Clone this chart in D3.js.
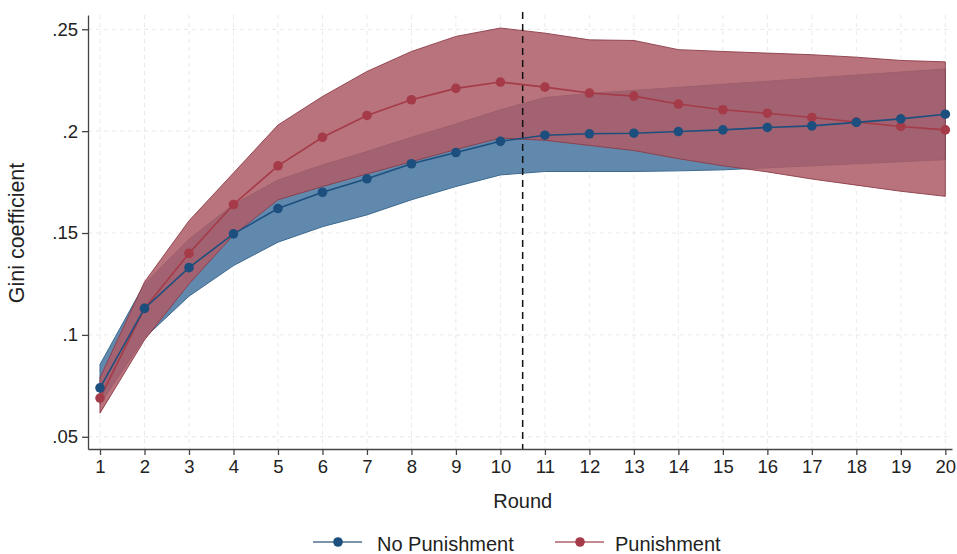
<!DOCTYPE html>
<html>
<head>
<meta charset="utf-8">
<script src="https://cdn.jsdelivr.net/npm/d3@7"></script>
<style>
  body { margin: 0; background: #fff; }
  text { font-family: "Liberation Sans", Arial, Helvetica, sans-serif; fill: #222; }
</style>
</head>
<body>
<div id="chart"></div>
<script>
// chart values
var rounds = [1,2,3,4,5,6,7,8,9,10,11,12,13,14,15,16,17,18,19,20];
var yTicks = [0.05, 0.1, 0.15, 0.2, 0.25];
var yTickLabels = [".05", ".1", ".15", ".2", ".25"];

var noPunMean = [0.074,0.113,0.133,0.1496,0.162,0.170,0.1766,0.184,0.1895,0.195,0.198,0.1987,0.199,0.1998,0.2006,0.2018,0.2026,0.2043,0.206,0.2083];
var noPunLo = [0.066,0.0985,0.119,0.134,0.1455,0.1531,0.1589,0.1663,0.1728,0.1785,0.1802,0.1802,0.1802,0.1805,0.181,0.182,0.183,0.184,0.185,0.186];
var noPunHi = [0.0855,0.125,0.147,0.164,0.176,0.1834,0.190,0.197,0.2035,0.2105,0.2165,0.2185,0.220,0.2215,0.223,0.2245,0.226,0.2275,0.229,0.2305];

var punMean = [0.069,0.113,0.140,0.164,0.183,0.197,0.2077,0.2154,0.221,0.2241,0.2216,0.2187,0.2172,0.2133,0.2105,0.2088,0.2067,0.2045,0.2023,0.2006];
var punLo = [0.0616,0.0975,0.125,0.149,0.1663,0.1728,0.179,0.185,0.191,0.1966,0.1955,0.193,0.1905,0.1865,0.183,0.180,0.1765,0.1735,0.1705,0.168];
var punHi = [0.079,0.126,0.156,0.1795,0.203,0.217,0.2293,0.2391,0.2465,0.2506,0.2481,0.2448,0.2445,0.240,0.2391,0.2383,0.2375,0.2363,0.2347,0.234];

var breakRound = 10.5;
var legendNames = ["No Punishment", "Punishment"];

// svg parameters
var svgWidth = 957;
var svgHeight = 554;

var svg = d3.select("#chart")
  .append("svg")
  .attr("width", svgWidth)
  .attr("height", svgHeight);

var xScale = d3.scaleLinear().domain([0.73, 20.15]).range([88, 952]);
var yScale = d3.scaleLinear().domain([0.044, 0.257]).range([449, 15]);

var blueBand = "#6189ad", blueEdge = "#3d6a90", blueLine = "#1d4f7e";
var redBand = "#ad5c67", redEdge = "#8c3c48", redLine = "#a53b48";

// grid
var grid = svg.append("g");
grid.selectAll("line.vg")
  .data(rounds)
  .enter()
  .append("line")
  .attr("x1", d => xScale(d))
  .attr("x2", d => xScale(d))
  .attr("y1", yScale.range()[1])
  .attr("y2", yScale.range()[0])
  .attr("stroke", "#e9e9e9")
  .attr("stroke-dasharray", "4,4");
grid.selectAll("line.hg")
  .data(yTicks)
  .enter()
  .append("line")
  .attr("x1", xScale.range()[0])
  .attr("x2", xScale.range()[1])
  .attr("y1", d => yScale(d))
  .attr("y2", d => yScale(d))
  .attr("stroke", "#e9e9e9")
  .attr("stroke-dasharray", "4,4");

// bands
var band = (lo, hi) => d3.area()
  .x((d, i) => xScale(rounds[i]))
  .y0((d, i) => yScale(lo[i]))
  .y1((d, i) => yScale(hi[i]));

svg.append("path")
  .attr("d", band(noPunLo, noPunHi)(rounds))
  .attr("fill", blueBand)
  .attr("stroke", blueEdge)
  .attr("stroke-width", 1);

svg.append("path")
  .attr("d", band(punLo, punHi)(rounds))
  .attr("fill", redBand)
  .attr("fill-opacity", 0.86)
  .attr("stroke", redEdge)
  .attr("stroke-opacity", 0.9)
  .attr("stroke-width", 1);

// break line
svg.append("line")
  .attr("x1", xScale(breakRound))
  .attr("x2", xScale(breakRound))
  .attr("y1", 12)
  .attr("y2", yScale.range()[0])
  .attr("stroke", "#111")
  .attr("stroke-width", 1.5)
  .attr("stroke-dasharray", "7,5");

// mean lines + markers
function drawSeries(vals, color) {
  var line = d3.line()
    .x((d, i) => xScale(rounds[i]))
    .y(d => yScale(d));
  svg.append("path")
    .attr("d", line(vals))
    .attr("fill", "none")
    .attr("stroke", color)
    .attr("stroke-width", 1.6);
  svg.append("g").selectAll("circle")
    .data(vals)
    .enter()
    .append("circle")
    .attr("cx", (d, i) => xScale(rounds[i]))
    .attr("cy", d => yScale(d))
    .attr("r", 4.8)
    .attr("fill", color);
}
drawSeries(punMean, redLine);
drawSeries(noPunMean, blueLine);

// axes
var bottomAxis = d3.axisBottom(xScale).tickValues(rounds).tickSize(6).tickSizeOuter(0).tickPadding(5);
var leftAxis = d3.axisLeft(yScale).tickValues(yTicks).tickSize(6).tickSizeOuter(0).tickPadding(4)
  .tickFormat((d, i) => yTickLabels[i]);

var gx = svg.append("g")
  .attr("transform", `translate(0,${yScale.range()[0]})`)
  .call(bottomAxis);
var gy = svg.append("g")
  .attr("transform", `translate(${xScale.range()[0]},0)`)
  .call(leftAxis);
[gx, gy].forEach(g => {
  g.select(".domain").attr("stroke", "#444").attr("stroke-width", 1.3);
  g.selectAll(".tick line").attr("stroke", "#444").attr("stroke-width", 1.3);
  g.selectAll(".tick text").attr("font-size", "18.5px").attr("fill", "#222");
});

// axis titles
svg.append("text")
  .attr("x", (xScale(1) + xScale(20)) / 2)
  .attr("y", 508)
  .attr("text-anchor", "middle")
  .attr("font-size", "20px")
  .text("Round");
svg.append("text")
  .attr("transform", `translate(24, ${yScale(0.15)}) rotate(-90)`)
  .attr("text-anchor", "middle")
  .attr("font-size", "21.5px")
  .text("Gini coefficient");

// legend
var legend = [
  { x: 313, line: "#7d93aa", dot: blueLine, tx: 377 },
  { x: 555, line: "#c48890", dot: redLine, tx: 615 }
];
legend.forEach((l, i) => {
  svg.append("line")
    .attr("x1", l.x).attr("x2", l.x + 49)
    .attr("y1", 542).attr("y2", 542)
    .attr("stroke", l.line).attr("stroke-width", 2);
  svg.append("circle")
    .attr("cx", l.x + 25).attr("cy", 542).attr("r", 4.8)
    .attr("fill", l.dot);
  svg.append("text")
    .attr("x", l.tx).attr("y", 551)
    .attr("font-size", "20px")
    .text(legendNames[i]);
});
</script>
</body>
</html>
